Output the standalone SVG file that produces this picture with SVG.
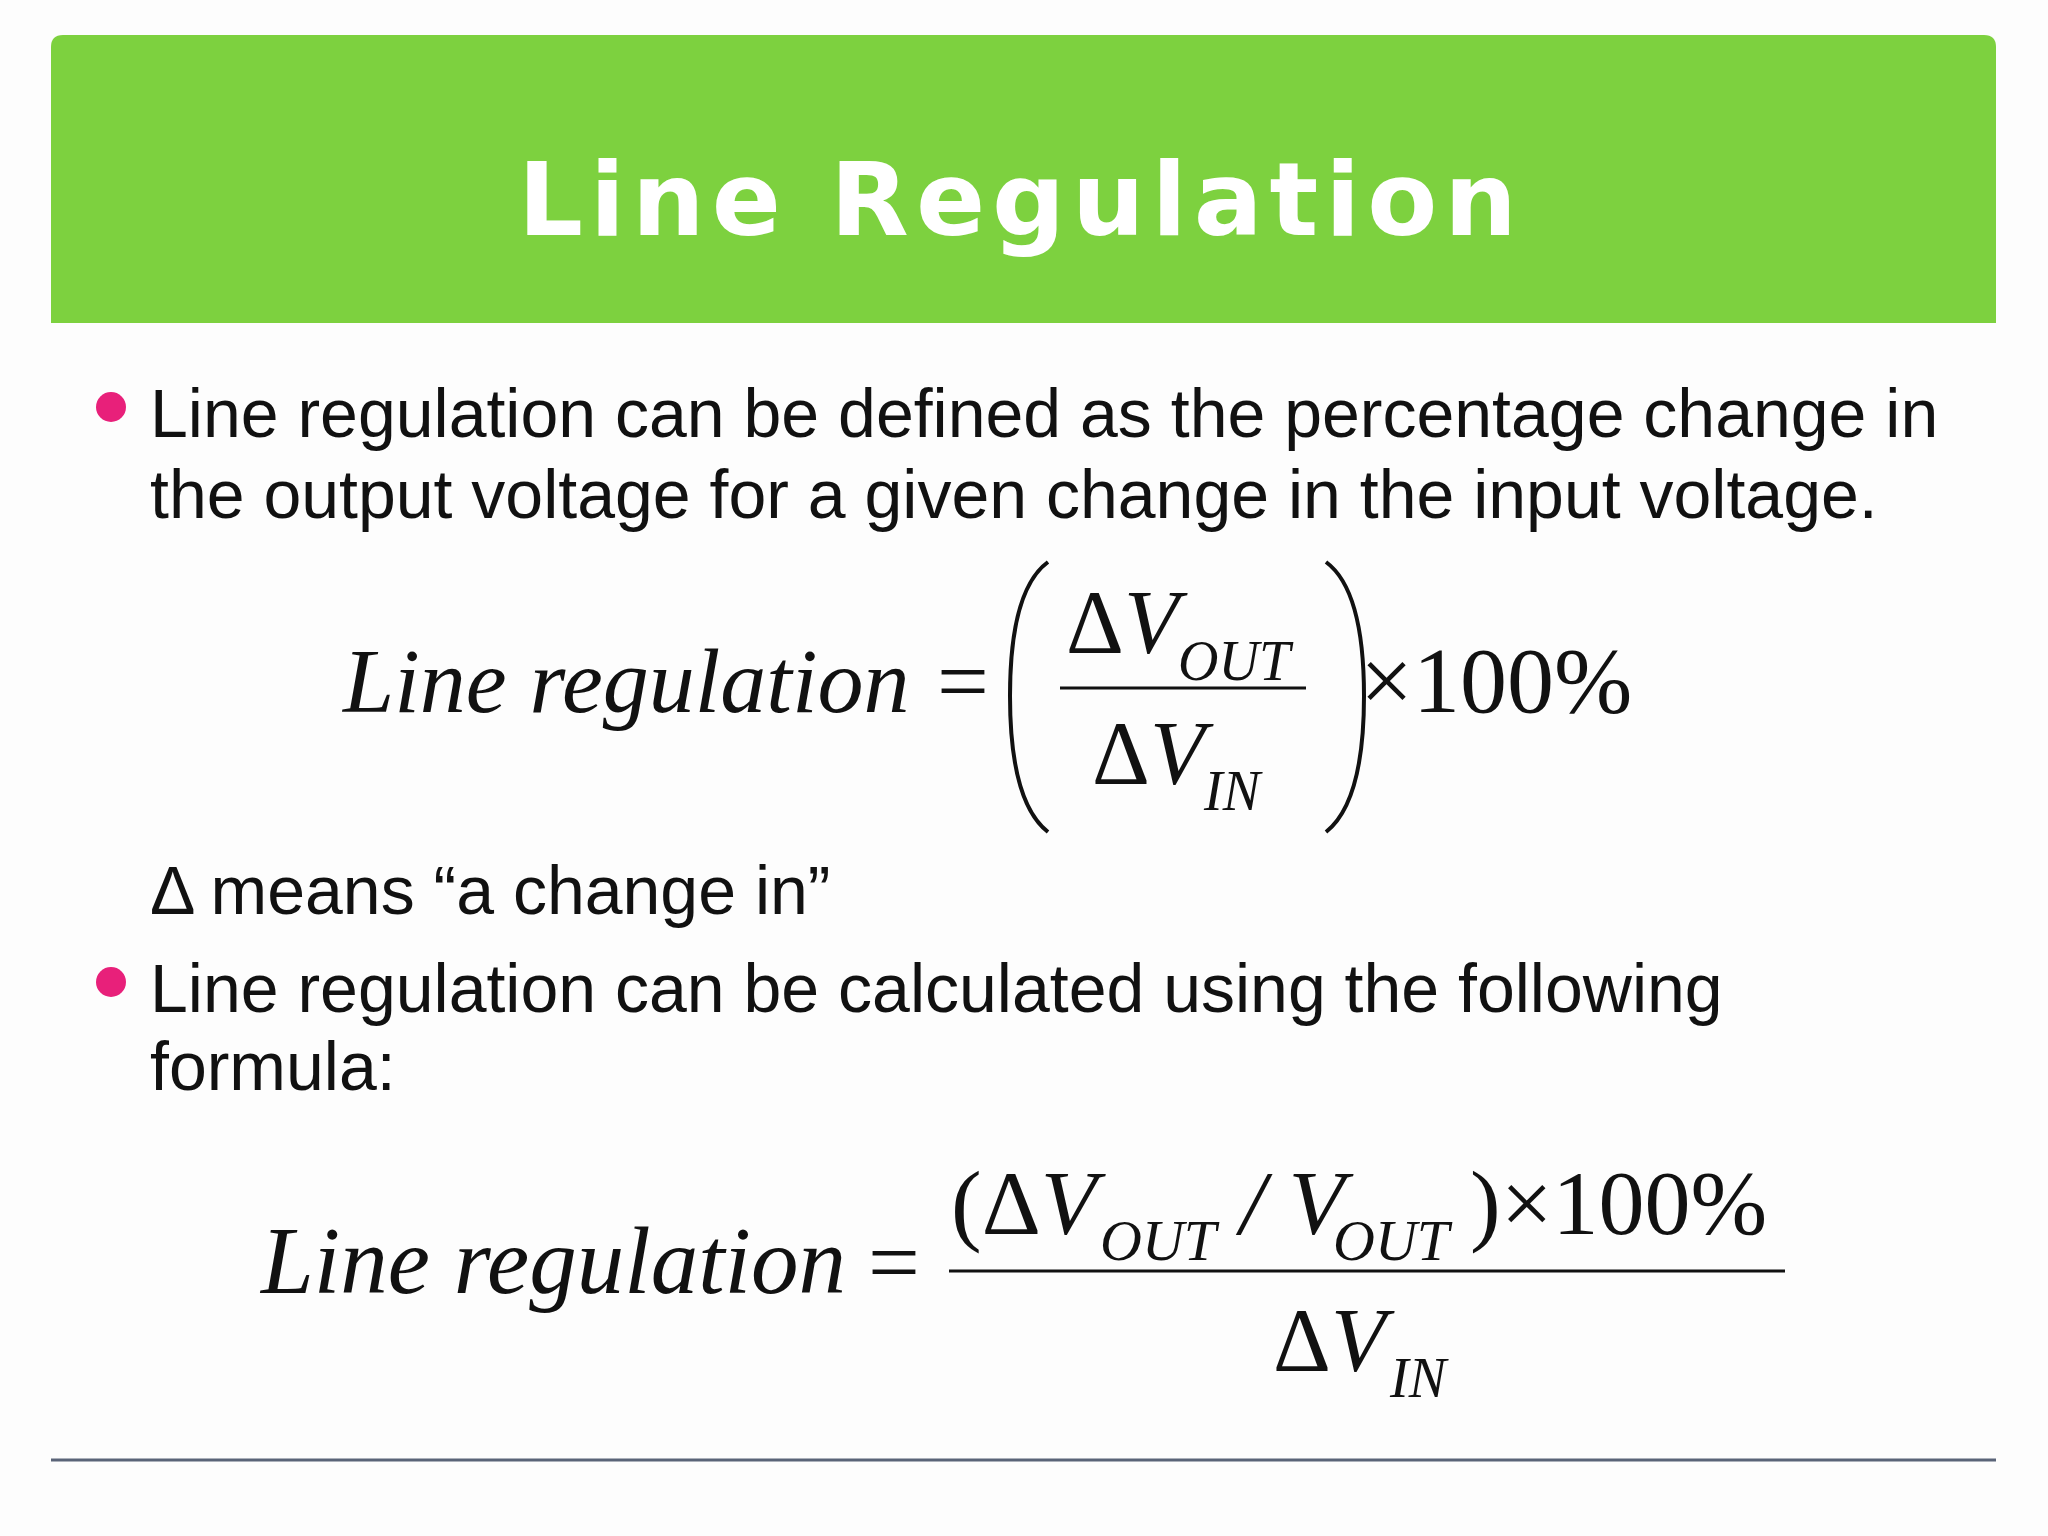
<svg xmlns="http://www.w3.org/2000/svg" width="2048" height="1536" viewBox="0 0 2048 1536">
<style>
.b{font-family:"Liberation Sans",Arial,sans-serif;font-size:68px;fill:#111}
.m{font-family:"Liberation Serif","Times New Roman",serif;font-style:italic;fill:#111}
.r{font-family:"Liberation Serif","Times New Roman",serif;fill:#111}
</style>
<rect width="2048" height="1536" fill="#fdfdfd"/>
<g id="header">
<path d="M51 323 V47 Q51 35 63 35 H1984 Q1996 35 1996 47 V323 Z" fill="#7dd13f"/>
<text x="1021" y="235" text-anchor="middle" font-family="'DejaVu Sans',sans-serif" font-weight="bold" font-size="102" letter-spacing="7" fill="#fff">Line Regulation</text>
</g>
<g id="bullet1">
<circle cx="111" cy="407" r="15" fill="#e8207a"/>
<text class="b" x="150" y="437">Line regulation can be defined as the percentage change in</text>
<text class="b" x="150" y="518">the output voltage for a given change in the input voltage.</text>
</g>
<g id="formula1">
<text class="m" x="343" y="712" font-size="92">Line regulation</text>
<text class="r" x="937" y="712" font-size="92">=</text>
<path d="M1048 562 Q1010 590 1010 696 Q1010 802 1048 832" fill="none" stroke="#111" stroke-width="4"/>
<path d="M1326 562 Q1364 590 1364 696 Q1364 802 1326 832" fill="none" stroke="#111" stroke-width="4"/>
<text class="r" x="1066" y="653" font-size="90">Δ<tspan class="m">V</tspan></text>
<text class="m" x="1178" y="680" font-size="56">OUT</text>
<line x1="1060" y1="688" x2="1306" y2="688" stroke="#111" stroke-width="3"/>
<text class="r" x="1092" y="784" font-size="90">Δ<tspan class="m">V</tspan></text>
<text class="m" x="1204" y="810" font-size="56">IN</text>
<text class="r" x="1360" y="712" font-size="94">×100%</text>
</g>
<g id="note">
<text class="b" x="150" y="914">Δ means “a change in”</text>
</g>
<g id="bullet2">
<circle cx="111" cy="982" r="15" fill="#e8207a"/>
<text class="b" x="150" y="1012">Line regulation can be calculated using the following</text>
<text class="b" x="150" y="1090">formula:</text>
</g>
<g id="formula2">
<text class="m" x="261" y="1293" font-size="95">Line regulation</text>
<text class="r" x="868" y="1293" font-size="92">=</text>
<text class="r" x="951" y="1234" font-size="92">(Δ<tspan class="m">V</tspan></text>
<text class="m" x="1100" y="1260" font-size="58">OUT</text>
<text class="m" x="1240" y="1234" font-size="92">/ V</text>
<text class="m" x="1333" y="1260" font-size="58">OUT</text>
<text class="r" x="1470" y="1234" font-size="92">)×100%</text>
<line x1="949" y1="1271" x2="1785" y2="1271" stroke="#111" stroke-width="3"/>
<text class="r" x="1273" y="1371" font-size="90">Δ<tspan class="m">V</tspan></text>
<text class="m" x="1390" y="1397" font-size="56">IN</text>
</g>
<line x1="51" y1="1460" x2="1996" y2="1460" stroke="#5a6478" stroke-width="3"/>
</svg>
